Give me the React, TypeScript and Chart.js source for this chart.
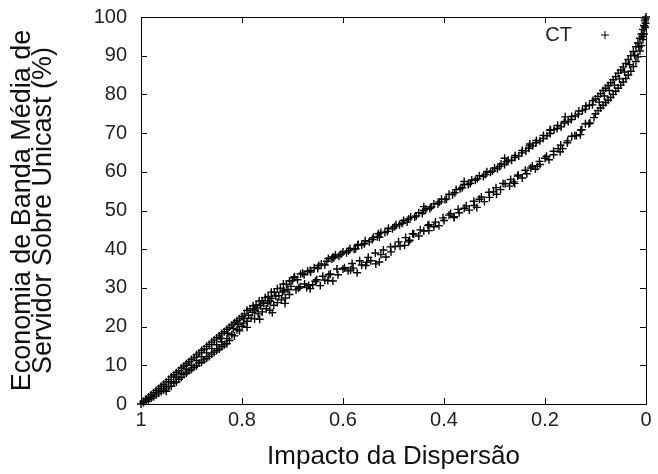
import { useEffect, useRef } from 'react';
import { Chart, registerables } from 'chart.js';

Chart.register(...registerables);

const seriesLabel = 'CT';
const xTitle = 'Impacto da Dispersão';
const yTitle = ['Economia de Banda Média de', 'Servidor Sobre Unicast (%)'];

const xTickValues = [0, 0.2, 0.4, 0.6, 0.8, 1];
const xTickLabels = ['0', '0.2', '0.4', '0.6', '0.8', '1'];
const yTickValues = [0, 10, 20, 30, 40, 50, 60, 70, 80, 90, 100];
const yTickLabels = ['0', '10', '20', '30', '40', '50', '60', '70', '80', '90', '100'];

// [impact, savings %] — dense start of the band (impact 1 → 0.8)
const denseLow: [number, number][] = [
  [1, 0], [0.995, 0.7], [0.995, 0.4], [0.99, 1.3], [0.99, 0.7], [0.985, 1.8], [0.985, 1.1],
  [0.98, 2.4], [0.98, 1.5], [0.975, 2.9], [0.975, 1.9], [0.97, 3.5], [0.97, 2.3],
  [0.965, 4.0], [0.965, 2.8], [0.96, 4.6], [0.96, 3.2], [0.955, 5.1], [0.955, 3.6],
  [0.95, 5.7], [0.95, 4.1], [0.95, 3.3], [0.945, 6.3], [0.945, 4.5], [0.94, 7.0], [0.94, 5.7],
  [0.94, 4.6], [0.935, 7.5], [0.935, 5.4], [0.93, 8.1], [0.93, 6.9], [0.93, 5.7],
  [0.925, 8.6], [0.925, 6.4], [0.92, 9.3], [0.92, 7.8], [0.92, 6.9], [0.915, 9.8], [0.915, 7.6],
  [0.91, 10.4], [0.91, 9.0], [0.91, 8.0], [0.905, 10.9], [0.905, 8.6], [0.9, 11.5], [0.9, 10.0],
  [0.9, 9.0], [0.895, 12.0], [0.895, 9.5], [0.89, 12.7], [0.89, 11.2], [0.89, 9.9],
  [0.885, 13.2], [0.885, 10.6], [0.88, 13.8], [0.88, 12.2], [0.88, 10.8], [0.875, 14.2],
  [0.875, 11.4], [0.87, 14.9], [0.87, 13.2], [0.87, 11.8], [0.865, 15.4], [0.865, 12.3],
  [0.86, 16.0], [0.86, 14.3], [0.86, 12.9], [0.855, 16.5], [0.855, 13.4], [0.85, 17.1],
  [0.85, 15.3], [0.85, 13.8], [0.845, 17.6], [0.845, 14.2], [0.84, 18.2], [0.84, 16.1],
  [0.84, 14.8], [0.835, 18.7], [0.835, 15.3], [0.83, 19.3], [0.83, 16.9], [0.83, 15.6],
  [0.825, 19.8], [0.825, 16.4], [0.82, 20.4], [0.82, 17.9], [0.815, 21.0], [0.815, 17.6],
  [0.81, 21.5], [0.81, 19.2], [0.805, 22.0], [0.805, 18.9], [0.8, 22.6], [0.8, 20.1],
];

// upper strand of the band (impact 0.8 → 0.1)
const upperStrand: [number, number][] = [
  [0.795, 23.3], [0.79, 24.2], [0.784, 24.6], [0.778, 25.4], [0.772, 25.6], [0.766, 26.6],
  [0.76, 26.7], [0.754, 27.5], [0.748, 27.8], [0.742, 28.9], [0.736, 28.9], [0.73, 29.8],
  [0.724, 29.9], [0.718, 31.0], [0.712, 30.9], [0.706, 31.8], [0.7, 31.9], [0.696, 32.9],
  [0.69, 32.1], [0.684, 33.6], [0.677, 33.4], [0.67, 34.3], [0.664, 34.1], [0.657, 35.2],
  [0.65, 35.0], [0.643, 36.2], [0.636, 35.9], [0.629, 37.6], [0.622, 37.5], [0.615, 38.5],
  [0.608, 38.2], [0.6, 39.3], [0.593, 39.1], [0.586, 40.2], [0.578, 40.0], [0.571, 41.0],
  [0.563, 41.1], [0.556, 42.2], [0.548, 41.9], [0.54, 43.0], [0.532, 43.2], [0.525, 44.3],
  [0.517, 44.3], [0.51, 45.4], [0.502, 45.3], [0.495, 46.3], [0.488, 46.3], [0.48, 47.4],
  [0.473, 47.0], [0.466, 48.3], [0.458, 48.3], [0.45, 49.4], [0.443, 49.2], [0.436, 50.4],
  [0.428, 50.5], [0.42, 51.7], [0.412, 51.7], [0.405, 52.9], [0.398, 52.8], [0.39, 54.2],
  [0.383, 54.1], [0.376, 55.4], [0.368, 55.6], [0.36, 56.7], [0.352, 56.7], [0.345, 57.9],
  [0.338, 57.8], [0.33, 59.0], [0.322, 58.8], [0.315, 60.0], [0.308, 59.9], [0.3, 61.0],
  [0.294, 60.8], [0.287, 62.0], [0.28, 61.9], [0.273, 63.0], [0.266, 63.0], [0.259, 64.2],
  [0.252, 64.1], [0.245, 65.5], [0.238, 65.4], [0.231, 66.7], [0.224, 66.7], [0.217, 68.1],
  [0.21, 68.0], [0.203, 69.4], [0.196, 69.3], [0.189, 70.7], [0.182, 70.9], [0.175, 72.0],
  [0.168, 71.6], [0.161, 73.0], [0.154, 73.0], [0.147, 74.3], [0.14, 74.4], [0.133, 75.7],
  [0.126, 75.8], [0.119, 77.0], [0.112, 77.2], [0.105, 78.4],
];

// lower strand of the band (impact 0.8 → 0.1)
const lowerStrand: [number, number][] = [
  [0.797, 20.9], [0.79, 21.4], [0.782, 22.2], [0.775, 22.0], [0.775, 24.3], [0.768, 23.3],
  [0.76, 23.8], [0.752, 24.6], [0.745, 24.2], [0.745, 26.6], [0.737, 25.5], [0.73, 26.2],
  [0.722, 26.9], [0.72, 28.9], [0.714, 27.4], [0.706, 28.3], [0.693, 29.5], [0.685, 30.3],
  [0.676, 31.0], [0.668, 30.6], [0.66, 30.8], [0.652, 32.1], [0.645, 30.6], [0.636, 32.0],
  [0.628, 33.4], [0.62, 31.8], [0.61, 33.4], [0.6, 34.9], [0.59, 34.4], [0.58, 35.1],
  [0.572, 33.9], [0.563, 35.9], [0.553, 36.6], [0.545, 37.0], [0.535, 36.2], [0.525, 38.6],
  [0.515, 38.0], [0.505, 39.3], [0.497, 40.7], [0.487, 40.8], [0.478, 41.0], [0.468, 42.3],
  [0.46, 43.9], [0.45, 43.4], [0.44, 44.7], [0.43, 46.3], [0.42, 45.8], [0.41, 46.1],
  [0.4, 47.4], [0.39, 48.8], [0.38, 48.2], [0.37, 49.4], [0.36, 50.6], [0.35, 50.1],
  [0.34, 51.3], [0.33, 52.9], [0.32, 52.3], [0.31, 53.4], [0.302, 54.8], [0.296, 54.2],
  [0.288, 55.4], [0.279, 56.9], [0.27, 56.3], [0.262, 57.4], [0.254, 58.9], [0.245, 58.4],
  [0.236, 59.5], [0.228, 61.0], [0.219, 60.7], [0.21, 61.9], [0.2, 63.5], [0.192, 63.1],
  [0.183, 64.4], [0.174, 66.0], [0.165, 66.0], [0.156, 67.5], [0.147, 69.2], [0.138, 69.3],
  [0.129, 70.8], [0.12, 72.4], [0.111, 72.6], [0.103, 74.0],
];

// points scattered between and around the two strands
const scattered: [number, number][] = [
  [0.842, 17.0], [0.828, 18.3], [0.817, 19.5], [0.808, 20.6], [0.796, 22.1], [0.787, 22.9],
  [0.779, 23.7], [0.77, 24.8], [0.763, 25.4], [0.757, 26.0], [0.749, 26.1], [0.741, 27.3],
  [0.733, 27.9], [0.727, 28.0], [0.717, 29.2], [0.709, 29.6], [0.703, 30.4], [0.79, 19.8],
  [0.765, 21.9], [0.74, 23.6], [0.715, 26.0], [0.697, 32.6], [0.688, 29.9], [0.68, 33.8],
  [0.672, 30.1], [0.665, 34.5], [0.655, 31.7], [0.648, 35.8], [0.64, 33.0], [0.632, 36.9],
  [0.625, 33.6], [0.618, 37.8], [0.612, 34.9], [0.604, 38.7], [0.597, 35.2], [0.589, 39.6],
  [0.582, 36.3], [0.575, 40.1], [0.567, 37.0], [0.558, 41.4], [0.55, 37.9], [0.542, 42.5],
  [0.536, 39.0], [0.528, 43.1], [0.52, 39.8], [0.512, 44.6], [0.506, 40.6], [0.665, 29.8],
  [0.63, 31.9], [0.585, 34.6], [0.555, 35.8], [0.528, 36.7], [0.62, 38.0], [0.57, 41.2],
  [0.53, 44.0], [0.498, 45.8], [0.49, 41.9], [0.483, 46.7], [0.476, 43.0], [0.47, 47.8],
  [0.462, 44.0], [0.455, 48.6], [0.447, 45.0], [0.44, 50.0], [0.432, 46.1], [0.425, 50.9],
  [0.417, 47.0], [0.409, 52.2], [0.402, 48.1], [0.395, 53.0], [0.387, 49.2], [0.379, 54.6],
  [0.372, 50.3], [0.364, 55.9], [0.356, 51.2], [0.348, 57.0], [0.341, 52.4], [0.334, 58.2],
  [0.326, 53.5], [0.318, 59.3], [0.311, 54.7], [0.304, 60.2], [0.47, 41.9], [0.43, 44.8],
  [0.38, 48.4], [0.44, 51.0], [0.36, 57.5], [0.335, 50.8], [0.297, 55.9], [0.29, 61.4],
  [0.283, 57.0], [0.276, 62.6], [0.268, 58.0], [0.26, 63.7], [0.253, 59.2], [0.246, 64.9],
  [0.239, 60.4], [0.232, 66.1], [0.225, 61.5], [0.218, 67.5], [0.211, 62.7], [0.204, 68.6],
  [0.197, 64.0], [0.19, 69.9], [0.183, 65.3], [0.176, 71.2], [0.169, 66.9], [0.162, 72.6],
  [0.155, 68.0], [0.148, 73.5], [0.141, 69.4], [0.134, 74.9], [0.127, 70.9], [0.12, 76.2],
  [0.113, 72.4], [0.106, 77.3], [0.28, 63.5], [0.26, 57.0], [0.23, 67.2], [0.215, 61.4],
  [0.19, 70.9], [0.17, 65.2], [0.16, 74.2], [0.13, 69.6],
];

// dense end of the band (impact 0.1 → 0)
const denseHigh: [number, number][] = [
  [0.1, 78.8], [0.1, 75.0], [0.095, 79.5], [0.095, 75.8], [0.0925, 78.0], [0.09, 80.2],
  [0.09, 76.5], [0.085, 81.0], [0.085, 77.2], [0.0825, 79.6], [0.08, 81.6], [0.08, 77.9],
  [0.075, 82.3], [0.075, 78.5], [0.0725, 81.0], [0.07, 83.0], [0.07, 79.2], [0.065, 83.8],
  [0.065, 80.0], [0.0625, 82.4], [0.06, 84.6], [0.06, 80.8], [0.055, 85.5], [0.055, 81.6],
  [0.0525, 84.0], [0.05, 86.3], [0.05, 82.4], [0.045, 87.1], [0.045, 83.2], [0.0425, 85.8],
  [0.04, 88.0], [0.04, 84.1], [0.035, 89.0], [0.035, 85.0], [0.0325, 87.7], [0.03, 90.0],
  [0.03, 86.0], [0.025, 91.1], [0.025, 87.2], [0.0225, 90.1], [0.02, 92.3], [0.02, 88.5],
  [0.016, 93.3], [0.016, 89.7], [0.014, 92.3], [0.012, 94.5], [0.012, 91.2], [0.009, 95.6],
  [0.009, 92.6], [0.0075, 95.0], [0.006, 96.8], [0.006, 94.2], [0.004, 97.8], [0.004, 95.6],
  [0.003, 97.7], [0.002, 99.0], [0.002, 97.3], [0.001, 99.5], [0.001, 98.4], [0, 100],
];

const FONT = '"Liberation Sans", Arial, Helvetica, sans-serif';

function labelFor(values: number[], labels: string[], v: number): string {
  const i = values.findIndex((t) => Math.abs(t - v) < 1e-9);
  return i >= 0 ? labels[i] : '';
}

export default function App() {
  const ref = useRef<HTMLCanvasElement | null>(null);

  useEffect(() => {
    if (!ref.current) return;
    const points = [...denseLow, ...upperStrand, ...lowerStrand, ...scattered, ...denseHigh].map(
      ([x, y]) => ({ x, y }),
    );

    const whiteBg = {
      id: 'whiteBg',
      beforeDraw(chart: any) {
        const { ctx, width, height } = chart;
        ctx.save();
        ctx.fillStyle = '#ffffff';
        ctx.fillRect(0, 0, width, height);
        ctx.restore();
      },
    };

    const frame = {
      id: 'frame',
      afterDraw(chart: any) {
        const { ctx, chartArea } = chart;
        const { left, right, top, bottom } = chartArea;
        const xs = chart.scales.x;
        const ys = chart.scales.y;
        ctx.save();
        ctx.strokeStyle = '#000';
        ctx.lineWidth = 1;
        ctx.strokeRect(Math.round(left) + 0.5, Math.round(top) + 0.5, Math.round(right - left), Math.round(bottom - top));
        ctx.beginPath();
        const tl = 6;
        xTickValues.forEach((v) => {
          const p = Math.round(xs.getPixelForValue(v)) + 0.5;
          ctx.moveTo(p, bottom);
          ctx.lineTo(p, bottom - tl);
          ctx.moveTo(p, top);
          ctx.lineTo(p, top + tl);
        });
        yTickValues.forEach((v) => {
          const p = Math.round(ys.getPixelForValue(v)) + 0.5;
          ctx.moveTo(left, p);
          ctx.lineTo(left + tl, p);
          ctx.moveTo(right, p);
          ctx.lineTo(right - tl, p);
        });
        ctx.stroke();

        // key (legend) in the top-right corner of the plot
        const ky = top + 18;
        ctx.fillStyle = '#222';
        ctx.font = `20px ${FONT}`;
        ctx.textAlign = 'right';
        ctx.textBaseline = 'middle';
        ctx.fillText(chart.data.datasets[0].label, right - 74, ky);
        const kx = right - 41;
        ctx.beginPath();
        ctx.moveTo(kx - 4, ky);
        ctx.lineTo(kx + 4, ky);
        ctx.moveTo(kx, ky - 4);
        ctx.lineTo(kx, ky + 4);
        ctx.stroke();
        ctx.restore();
      },
    };

    const chart = new Chart(ref.current, {
      type: 'scatter',
      data: {
        datasets: [
          {
            label: seriesLabel,
            data: points,
            pointStyle: 'cross',
            pointRadius: 4,
            borderColor: '#000',
            backgroundColor: '#000',
            borderWidth: 1.4,
            showLine: false,
            clip: false,
          } as any,
        ],
      },
      options: {
        animation: false,
        responsive: false,
        events: [],
        layout: { padding: { top: 17, right: 12, left: 0, bottom: 0 } },
        plugins: { legend: { display: false }, tooltip: { enabled: false } },
        scales: {
          x: {
            type: 'linear',
            min: 0,
            max: 1,
            reverse: true,
            afterBuildTicks: (s: any) => {
              s.ticks = xTickValues.map((v) => ({ value: v }));
            },
            afterFit: (s: any) => {
              s.height = 70;
              s.paddingLeft = 0;
              s.paddingRight = 0;
            },
            ticks: {
              autoSkip: false,
              maxRotation: 0,
              padding: 4,
              color: '#222',
              font: { family: FONT, size: 20 },
              callback: (v: any) => labelFor(xTickValues, xTickLabels, Number(v)),
            },
            grid: { display: false, drawTicks: false },
            border: { display: false },
            title: {
              display: true,
              text: xTitle,
              color: '#111',
              font: { family: FONT, size: 26 },
              padding: { top: 0, bottom: 2 },
            },
          },
          y: {
            type: 'linear',
            min: 0,
            max: 100,
            afterBuildTicks: (s: any) => {
              s.ticks = yTickValues.map((v) => ({ value: v }));
            },
            afterFit: (s: any) => {
              s.width = 141;
              s.paddingTop = 0;
              s.paddingBottom = 0;
            },
            ticks: {
              autoSkip: false,
              padding: 14,
              color: '#222',
              font: { family: FONT, size: 20 },
              callback: (v: any) => labelFor(yTickValues, yTickLabels, Number(v)),
            },
            grid: { display: false, drawTicks: false },
            border: { display: false },
            title: {
              display: true,
              text: yTitle,
              color: '#111',
              font: { family: FONT, size: 27, lineHeight: 0.78 },
              padding: { top: 12, bottom: 0 },
            },
          },
        },
      } as any,
      plugins: [whiteBg, frame],
    });

    return () => chart.destroy();
  }, []);

  return (
    <div style={{ position: 'fixed', left: 0, top: 0, width: 658, height: 474, background: '#fff' }}>
      <canvas ref={ref} width={658} height={474} style={{ display: 'block', width: 658, height: 474 }} />
    </div>
  );
}
